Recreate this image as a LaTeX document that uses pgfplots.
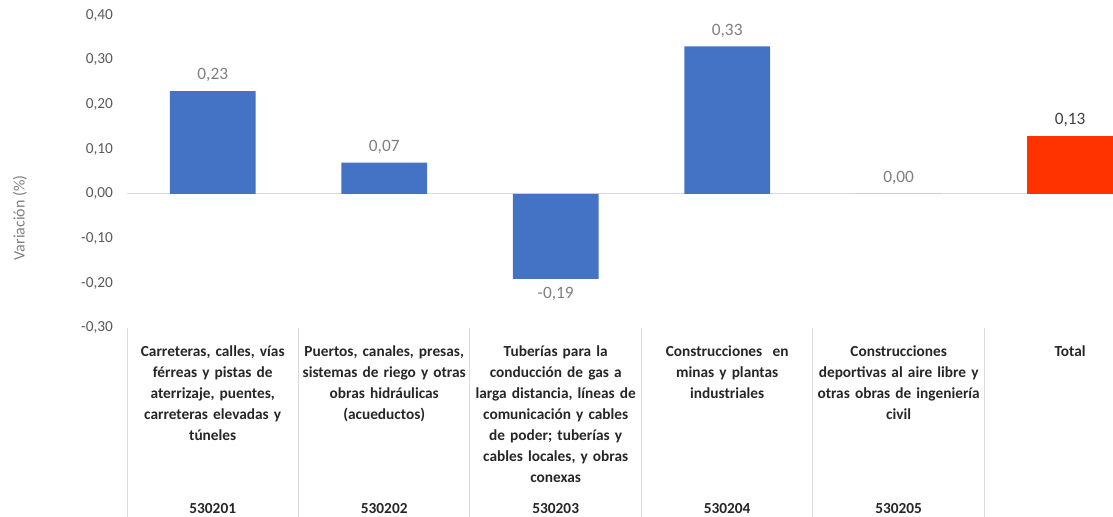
\documentclass[border=0pt]{standalone}
\usepackage{fontspec}
\setmainfont{Carlito}
\usepackage{pgfplots}
\pgfplotsset{compat=1.18}
\definecolor{barblue}{HTML}{4472C4}
\definecolor{barred}{HTML}{FF3300}
\definecolor{labgray}{HTML}{7F7F7F}
\definecolor{tickgray}{HTML}{595959}
\definecolor{sepgray}{HTML}{D9D9D9}
\definecolor{cattext}{HTML}{262626}

\begin{document}
\begin{tikzpicture}
\path[use as bounding box] (0,0) rectangle (834.75pt,387.75pt);
\begin{axis}[
    at={(95.25pt,141.75pt)}, anchor=south west,
    scale only axis, width=739.5pt, height=234.75pt,
    xmin=-0.5, xmax=5.25,
    ymin=-0.3, ymax=0.4,
    clip=false,
    axis line style={draw=none},
    major tick length=0pt,
    ytick={-0.3,-0.2,-0.1,0,0.1,0.2,0.3,0.4},
    yticklabel style={
        font=\fontsize{11.5}{11.5}\selectfont, text=tickgray, xshift=-7pt,
        /pgf/number format/.cd, fixed, fixed zerofill, precision=2,
        use comma, assume math mode=true},
    xtick={0,1,2,3,4,5},
    xticklabels={
        {Carreteras, calles, vías\\férreas y pistas de\\aterrizaje, puentes,\\carreteras elevadas y\\túneles},
        {Puertos, canales, presas,\\sistemas de riego y otras\\obras hidráulicas\\(acueductos)},
        {Tuberías para la\\conducción de gas a\\larga distancia, líneas de\\comunicación y cables\\de poder; tuberías y\\cables locales, y obras\\conexas},
        {Construcciones~ en\\minas y plantas\\industriales},
        {Construcciones\\deportivas al aire libre y\\otras obras de ingeniería\\civil},
        {Total}},
    xticklabel style={
        font=\bfseries\fontsize{11.5}{15.75}\selectfont, text=cattext,
        text width=140pt, align=center, anchor=north, yshift=-10pt},
    ybar, bar width=0.5, bar shift=0pt,
    nodes near coords={\pgfmathprintnumber[fixed, fixed zerofill, precision=2,
        use comma, assume math mode=true]{\pgfplotspointmeta}},
    nodes near coords align=vertical,
    every node near coord/.append style={inner ysep=6.5pt},
]
\draw[sepgray, line width=0.9pt] (axis cs:-0.5,0) -- (axis cs:5.25,0);
\pgfplotsinvokeforeach{-0.5,0.5,1.5,2.5,3.5,4.5}{
    \draw[sepgray, line width=0.7pt] (axis cs:#1,-0.3) -- ([yshift=-145pt]axis cs:#1,-0.3);
}

\addplot[fill=barblue, draw=none,
    every node near coord/.append style={font=\fontsize{13}{13}\selectfont, text=labgray}]
    coordinates {(0,0.23) (1,0.07) (2,-0.19) (3,0.33) (4,0.00)};
\addplot[fill=barred, draw=none,
    every node near coord/.append style={font=\fontsize{13}{13}\selectfont, text=black!75}]
    coordinates {(5,0.13)};

\node[font=\bfseries\fontsize{11.5}{11.5}\selectfont, text=cattext, yshift=-135.75pt] at (axis cs:0,-0.3) {530201};
\node[font=\bfseries\fontsize{11.5}{11.5}\selectfont, text=cattext, yshift=-135.75pt] at (axis cs:1,-0.3) {530202};
\node[font=\bfseries\fontsize{11.5}{11.5}\selectfont, text=cattext, yshift=-135.75pt] at (axis cs:2,-0.3) {530203};
\node[font=\bfseries\fontsize{11.5}{11.5}\selectfont, text=cattext, yshift=-135.75pt] at (axis cs:3,-0.3) {530204};
\node[font=\bfseries\fontsize{11.5}{11.5}\selectfont, text=cattext, yshift=-135.75pt] at (axis cs:4,-0.3) {530205};
\end{axis}
\node[rotate=90, font=\fontsize{12}{12}\selectfont, text=labgray] at (15pt,224.25pt) {Variación (\%)};
\end{tikzpicture}
\end{document}
